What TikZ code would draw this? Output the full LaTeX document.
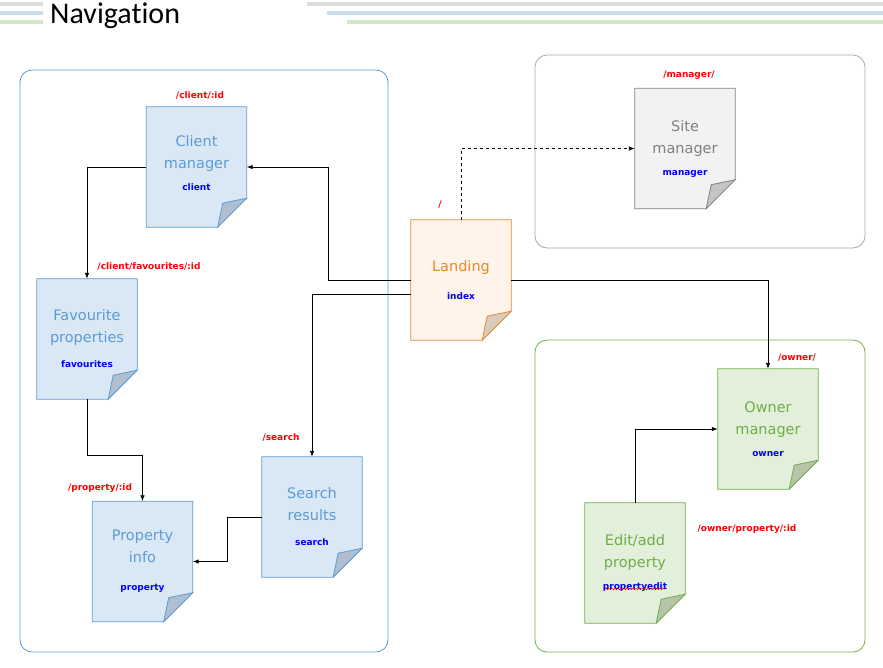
\documentclass[tikz,border=0pt]{standalone}
\usepackage{fontspec}
\setmainfont{DejaVu Sans}
\newfontfamily\headfont[Ligatures=NoCommon]{Carlito}
\usepackage{tikz}
\usepackage{xcolor}
\usetikzlibrary{arrows.meta, backgrounds, decorations.pathmorphing}
\definecolor{Nav_Blue}{HTML}{5B9BD5}
\definecolor{Nav_BlueFill}{HTML}{DAE8F5}
\definecolor{Nav_BlueFold}{HTML}{B0BECF}
\definecolor{Nav_Orange}{HTML}{E8892E}
\definecolor{Nav_OrangeFill}{HTML}{FEF4EA}
\definecolor{Nav_OrangeFold}{HTML}{D9CBBD}
\definecolor{Nav_Grey}{HTML}{808080}
\definecolor{Nav_GreyLine}{HTML}{A6A6A6}
\definecolor{Nav_GreyFill}{HTML}{F2F2F2}
\definecolor{Nav_GreyFold}{HTML}{C4C4C4}
\definecolor{Nav_Green}{HTML}{70AD47}
\definecolor{Nav_GreenFill}{HTML}{E2EFDA}
\definecolor{Nav_GreenFold}{HTML}{B6C4AC}
\definecolor{Nav_Red}{HTML}{FF0000}
\definecolor{Nav_Ref}{HTML}{0000FF}
\definecolor{Nav_BarGrey}{HTML}{DDDDDD}
\definecolor{Nav_BarBlue}{HTML}{C9DDF0}
\definecolor{Nav_BarGreen}{HTML}{D5E7CB}

\newcommand{\pgref}[1]{{\fontsize{9}{11}\selectfont\bfseries\color{Nav_Ref}#1}}

\begin{document}
\begin{tikzpicture}[
  x=1pt, y=-1pt,
  page/.style={minimum width=100pt, minimum height=120pt, inner sep=0pt, align=center, font=\fontsize{14.5}{22}\selectfont},
  route/.style={font=\fontsize{9}{10}\selectfont\bfseries, text=Nav_Red},
  group/.style={rounded corners=12pt, line width=0.8pt},
  link/.style={line width=0.8pt, -{Latex[length=6pt, width=4.5pt]}},
]
\useasboundingbox (0,0) rectangle (883,667);

% --- header ---
\fill[Nav_BarGrey] (0,2) rectangle (43,6);
\fill[Nav_BarBlue] (0,11) rectangle (43,15);
\fill[Nav_BarGreen] (0,20) rectangle (43,24);
\fill[Nav_BarGrey] (307,2) rectangle (883,6);
\fill[Nav_BarBlue] (327,11) rectangle (883,15);
\fill[Nav_BarGreen] (347,20) rectangle (883,24);
\node[font=\headfont\fontsize{30}{30}\selectfont, anchor=base west, inner sep=0pt] (title) at (50,23) {Navigation};

% --- groups ---
\draw[group, Nav_Blue] (20,70) rectangle (388,652);
\draw[group, Nav_GreyLine] (535,55) rectangle (865,248);
\draw[group, Nav_Green] (535,340) rectangle (865,652);

% --- pages ---
\node[page, text=Nav_Blue] (client) at (196.5,167) {Client\\manager\\\pgref{client}\\[-14pt]};
\node[page, text=Nav_Blue] (fav) at (87,339) {Favourite\\properties\\[3pt]\pgref{favourites}};
\node[page, text=Nav_Blue] (prop) at (142.5,561.5) {Property\\info\\[6pt]\pgref{property}};
\node[page, text=Nav_Blue] (search) at (312,517) {Search\\results\\[3pt]\pgref{search}};
\node[page, text=Nav_Orange] (landing) at (461,280) {Landing\\[6pt]\pgref{index}};
\node[page, text=Nav_Grey] (site) at (685,148.5) {Site\\manager\\\pgref{manager}};
\node[page, text=Nav_Green] (owner) at (768,429) {Owner\\manager\\\pgref{owner}};
\node[page, text=Nav_Green] (edit) at (635,563) {Edit/add\\property\\\pgref{propertyedit}};
\draw[Nav_Red, line width=0.5pt, decorate, decoration={snake, amplitude=0.7pt, segment length=3pt}] (605,589) -- (665,589);

\begin{scope}[on background layer]
\foreach \pg/\col in {client/Blue, fav/Blue, prop/Blue, search/Blue, landing/Orange, site/Grey, owner/Green, edit/Green}
{
  \draw[draw=Nav_\col, fill=Nav_\col Fill, line width=0.8pt]
    (\pg.north west) -- (\pg.north east) -- ([yshift=29pt]\pg.south east)
    -- ([xshift=-29pt]\pg.south east) -- (\pg.south west) -- cycle;
  \draw[draw=Nav_\col, fill=Nav_\col Fold, line width=0.8pt]
    ([yshift=29pt]\pg.south east) -- ([xshift=-29pt]\pg.south east)
    -- ([shift={(-24pt,24pt)}]\pg.south east) -- cycle;
}
\end{scope}

% --- routes ---
\node[route] (r_client) at (200,95) {/client/:id};
\node[route] (r_fav) at (149,266) {/client/favourites/:id};
\node[route] (r_prop) at (100,488) {/property/:id};
\node[route] (r_search) at (281,437) {/search};
\node[route] (r_landing) at (440,205) {/};
\node[route] (r_site) at (689,75) {/manager/};
\node[route] (r_owner) at (797,358) {/owner/};
\node[route] (r_edit) at (747,529) {/owner/property/:id};

% --- links ---
\draw[link] (client.west) -| (fav.north);
\draw[link] (fav.south) -- ++(0,56) -| (prop.north);
\draw[link] (search.west) -- ++(-34,0) |- (prop.east);
\draw[link] (landing.west) -- ++(-82,0) |- (client.east);
\draw[link] ([yshift=-14pt]landing.west) -| (search.north);
\draw[link] (landing.east) -| (owner.north);
\draw[link, dashed] (landing.north) |- (site.west);
\draw[link] (edit.north) |- (owner.west);

\end{tikzpicture}
\end{document}
